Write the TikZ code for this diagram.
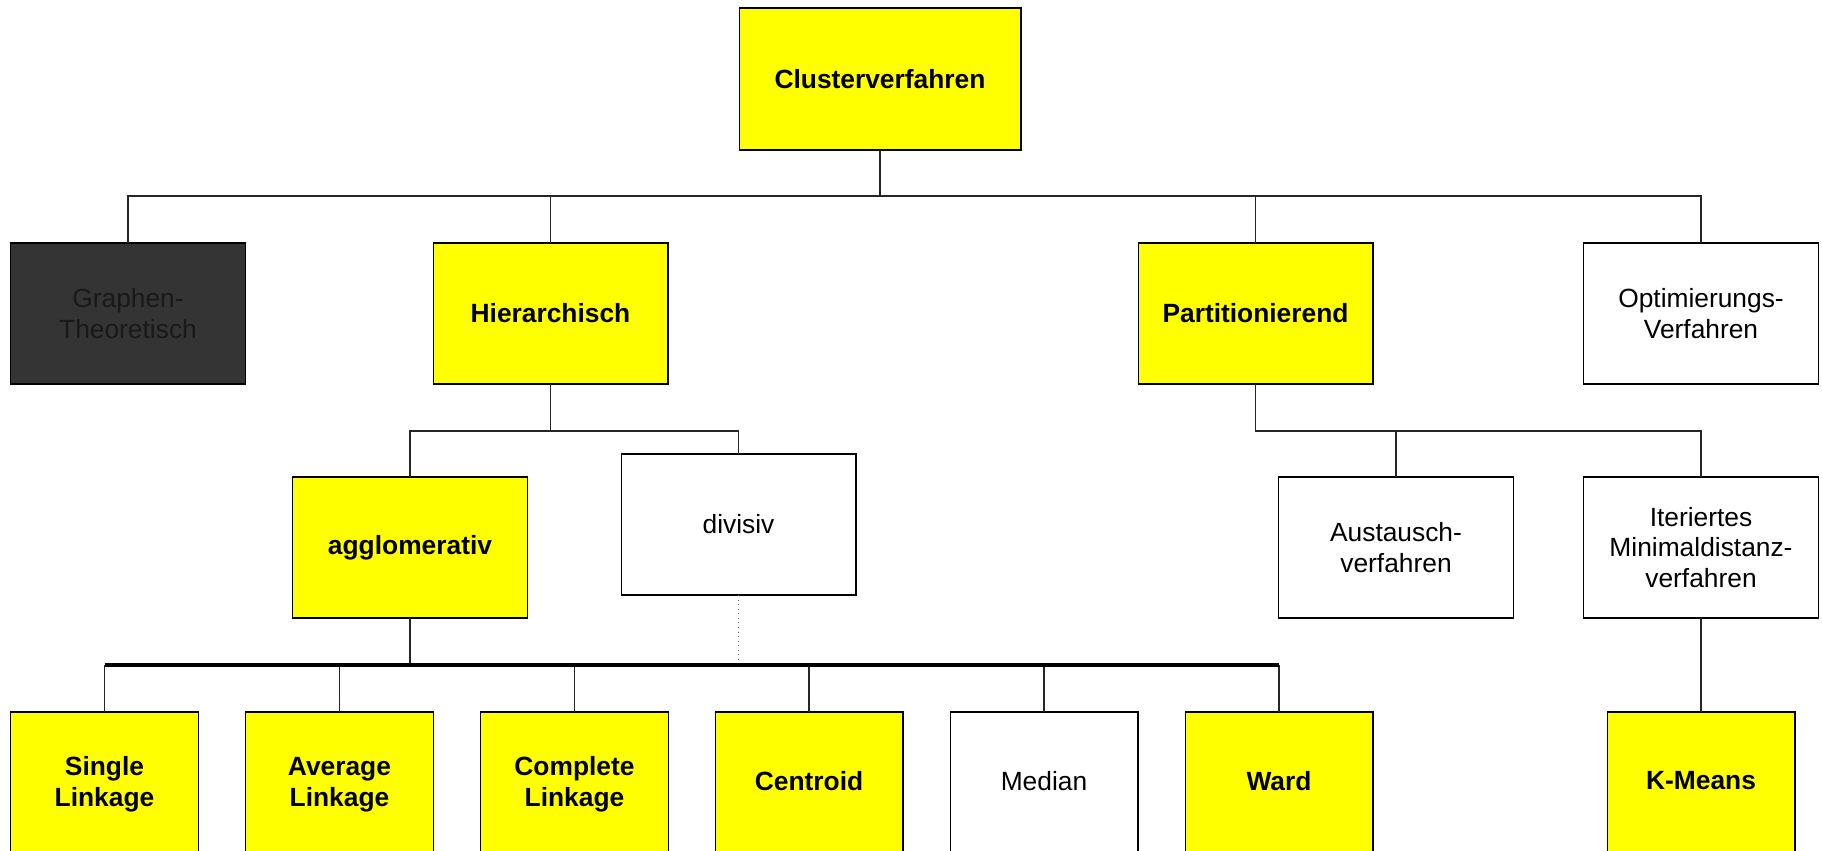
\documentclass[tikz,border=0pt]{standalone}
\usepackage{fontspec}
\setmainfont{Liberation Sans}
\definecolor{boxyellow}{RGB}{255,255,0}
\definecolor{darkbox}{RGB}{52,52,52}
\tikzset{
  box/.style={draw=black, line width=0.6pt, minimum width=4.7cm, minimum height=2.82cm,
    inner sep=0pt, outer sep=0pt, align=center, font=\fontsize{15}{17.5}\selectfont},
  yel/.style={box, fill=boxyellow, font=\fontsize{15}{17.5}\selectfont\bfseries},
  wht/.style={box, fill=white},
  drk/.style={box, fill=darkbox, text=black!90},
  low/.style={minimum width=3.76cm, minimum height=3.2cm},
  lbl/.style={align=center, inner sep=0pt, yshift=0.22cm, font=\fontsize{15}{17.5}\selectfont\bfseries},
  lbltwo/.style={lbl, yshift=-0.07cm},
  lblr/.style={lbl, font=\fontsize{15}{17.5}\selectfont},
  conn/.style={draw=black!85, line width=0.6pt},
  thickbus/.style={draw=black, line width=1.8pt},
}
\begin{document}
\begin{tikzpicture}[x=0.02cm,y=-0.02cm]
\clip (0,0) rectangle (1822,851);
\fill[white] (0,0) rectangle (1822,851);

% level 0
\node[yel, minimum width=5.64cm, minimum height=2.84cm] (cluster) at (880,79) {Clusterverfahren};

% level 1
\node[drk] (graphen) at (128,313.5) {Graphen-\\Theoretisch};
\node[yel] (hier) at (550.5,313.5) {Hierarchisch};
\node[yel] (part) at (1255.5,313.5) {Partitionierend};
\node[wht] (optim) at (1701,313.5) {Optimierungs-\\Verfahren};

% level 2
\node[yel] (agglo) at (410,547.5) {agglomerativ};
\node[wht] (divisiv) at (738.5,524.5) {divisiv};
\node[wht] (aus) at (1396,547.5) {Austausch-\\verfahren};
\node[wht] (iter) at (1701,547.5) {Iteriertes\\Minimaldistanz-\\verfahren};

% level 3
\node[yel, low, label={[lbltwo]center:Single\\Linkage}] (single) at (104.5,792) {};
\node[yel, low, label={[lbltwo]center:Average\\Linkage}] (average) at (339.5,792) {};
\node[yel, low, label={[lbltwo]center:Complete\\Linkage}] (complete) at (574.5,792) {};
\node[yel, low, label={[lbl]center:Centroid}] (centroid) at (809,792) {};
\node[wht, low, label={[lblr]center:Median}] (median) at (1044,792) {};
\node[yel, low, label={[lbl]center:Ward}] (ward) at (1279,792) {};
\node[yel, low, label={[lbl]center:K-Means}] (kmeans) at (1701,792) {};

% bus coordinates
\coordinate (b1) at (0,196);
\coordinate (b2) at (0,431);
\coordinate (tb) at (0,665);

% top bus
\draw[conn] (cluster.south) -- (cluster.south |- b1);
\draw[conn] (graphen.north) -- (graphen.north |- b1) -- (optim.north |- b1) -- (optim.north);
\draw[conn] (hier.north) -- (hier.north |- b1);
\draw[conn] (part.north) -- (part.north |- b1);

% hierarchical branch
\draw[conn] (hier.south) -- (hier.south |- b2);
\draw[conn] (agglo.north) -- (agglo.north |- b2) -- (divisiv.north |- b2) -- (divisiv.north);

% partitioning branch
\draw[conn] (part.south) -- (part.south |- b2) -- (iter.north |- b2) -- (iter.north);
\draw[conn] (aus.north) -- (aus.north |- b2);
\draw[conn] (iter.south) -- (kmeans.north);

% bottom bus
\draw[conn] (agglo.south) -- (agglo.south |- tb);
\draw[draw=black!60, line width=0.6pt, dotted] (divisiv.south) -- (divisiv.south |- tb);
\foreach \n in {single,average,complete,centroid,median,ward}{
  \draw[conn] (\n.north) -- (\n.north |- tb);
}
\draw[thickbus] (single.north |- tb) -- (ward.north |- tb);
\end{tikzpicture}
\end{document}
